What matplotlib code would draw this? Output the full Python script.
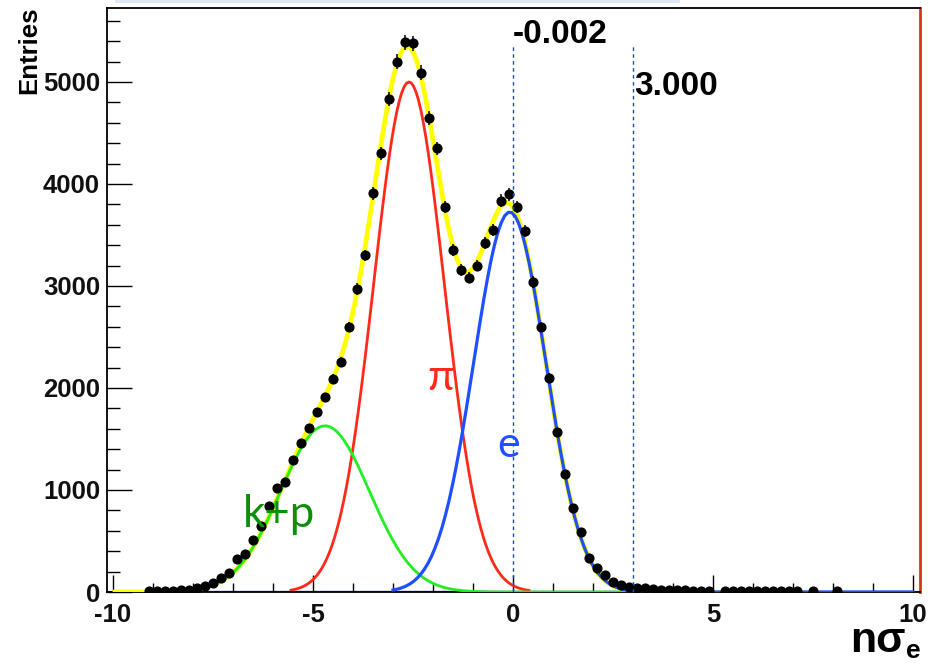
import numpy as np
import matplotlib
matplotlib.use("Agg")
import matplotlib.pyplot as plt
from matplotlib.ticker import MultipleLocator
from matplotlib.patches import Rectangle

plt.rcParams["axes.unicode_minus"] = False

# ---------------- data ----------------
bin_centers = [-9.1, -8.9, -8.7, -8.5, -8.3, -8.1, -7.9, -7.7, -7.5, -7.3,
               -7.1, -6.9, -6.7, -6.5, -6.3, -6.1, -5.9, -5.7, -5.5, -5.3,
               -5.1, -4.9, -4.7, -4.5, -4.3, -4.1, -3.9, -3.7, -3.5, -3.3,
               -3.1, -2.9, -2.7, -2.5, -2.3, -2.1, -1.9, -1.7, -1.5, -1.3,
               -1.1, -0.9, -0.7, -0.5, -0.3, -0.1, 0.1, 0.3, 0.5, 0.7,
               0.9, 1.1, 1.3, 1.5, 1.7, 1.9, 2.1, 2.3, 2.5, 2.7,
               2.9, 3.1, 3.3, 3.5, 3.7, 3.9, 4.1, 4.3, 4.5, 4.7,
               4.9, 5.3, 5.5, 5.7, 5.9, 6.1, 6.3, 6.5, 6.7, 6.9,
               7.1, 7.5, 8.1]
entries = [5, 5, 10, 10, 15, 20, 35, 55, 90, 140,
           190, 325, 370, 510, 650, 840, 1020, 1080, 1295, 1460,
           1610, 1765, 1910, 2090, 2255, 2600, 2970, 3300, 3910, 4300,
           4830, 5200, 5390, 5380, 5090, 4650, 4350, 3775, 3350, 3155,
           3080, 3200, 3420, 3550, 3835, 3900, 3775, 3540, 3040, 2600,
           2100, 1570, 1155, 820, 590, 335, 235, 165, 100, 70,
           50, 40, 35, 25, 20, 20, 15, 15, 10, 10,
           10, 8, 8, 8, 8, 8, 8, 8, 8, 8,
           8, 5, 5]
bin_half_width = 0.1

# fit components: amplitude, mean, sigma, drawing range
kp_par = (1630, -4.70, 1.11)
pi_par = (5000, -2.60, 0.88)
e_par = (3725, -0.08, 0.90)
kp_range = (-8.3, 2.9)
pi_range = (-5.55, 0.4)
e_range = (-3.0, 10.0)
sum_range = (-9.95, 5.0)

cut_values = [-0.002, 3.000]
cut_labels = ["-0.002", "3.000"]

x_ticks = [-10, -5, 0, 5, 10]
y_ticks = [0, 1000, 2000, 3000, 4000, 5000]


def gaus(x, p):
    a, m, s = p
    return a * np.exp(-0.5 * ((x - m) / s) ** 2)


W, H = 940, 664
fig = plt.figure(figsize=(W / 100, H / 100), dpi=100)
fig.patch.set_facecolor("white")

# thin light band at the very top (screenshot artefact)
fig.patches.append(Rectangle((115 / W, 1 - 3 / H), (680 - 115) / W, 3 / H,
                             transform=fig.transFigure, facecolor="#dde8f4",
                             edgecolor="none"))

ax = fig.add_axes([107 / W, 72 / H, (920 - 107) / W, (592 - 8) / H])
ax.set_xlim(-10.15, 10.175)
ax.set_ylim(0, 5725)

# baselines
ax.plot([-10.15, 10.175], [0, 0], color="#ff2a1a", lw=2.2, zorder=1)
ax.plot([-9.95, 9.9], [0, 0], color="#1f4fff", lw=2.4, zorder=1.5)

xs = np.linspace(*pi_range, 100)
ax.plot(xs, gaus(xs, pi_par), color="#ff2a1a", lw=2.0, zorder=2)

xs = np.linspace(*sum_range, 200)
ax.plot(xs, gaus(xs, kp_par) + gaus(xs, pi_par) + gaus(xs, e_par),
        color="#ffff00", lw=3.4, zorder=3)

xs = np.linspace(*kp_range, 100)
ax.plot(xs, gaus(xs, kp_par), color="#22ee22", lw=2.0, zorder=4)

xs = np.linspace(*e_range, 150)
ax.plot(xs, gaus(xs, e_par), color="#1f4fff", lw=2.3, zorder=5)

# data points
yv = np.array(entries, dtype=float)
ax.errorbar(bin_centers, yv, yerr=np.sqrt(yv), xerr=bin_half_width,
            fmt="o", color="black", ms=6.3, elinewidth=1.1, capsize=0,
            zorder=6)

# cut lines
for cv in cut_values:
    ax.plot([cv, cv], [0, 5360], color="#1a3cff", lw=1.0,
            linestyle=(0, (2.5, 2.5)), zorder=7)

# axes styling
for side in ["top", "left", "bottom"]:
    ax.spines[side].set_color("black")
    ax.spines[side].set_linewidth(1.3)
ax.spines["right"].set_color("#dd3311")
ax.spines["right"].set_linewidth(2.0)

ax.set_xticks(x_ticks)
ax.set_yticks(y_ticks)
ax.xaxis.set_minor_locator(MultipleLocator(1))
ax.yaxis.set_minor_locator(MultipleLocator(200))
ax.tick_params(axis="x", which="major", direction="in", length=12.5, width=1.0,
               pad=8, top=False)
ax.tick_params(axis="x", which="minor", direction="in", length=6.5, width=1.0,
               top=False)
ax.tick_params(axis="y", which="major", direction="in", length=18, width=1.0,
               pad=5, right=False)
ax.tick_params(axis="y", which="minor", direction="in", length=9.5, width=1.0,
               right=False)
for lab in ax.get_xticklabels() + ax.get_yticklabels():
    lab.set_fontfamily("Liberation Sans")
    lab.set_fontweight("bold")
    lab.set_fontsize(18.5)
    lab.set_color("#111111")


def ftext(px, py, s, **kw):
    fig.text(px / W, 1 - py / H, s, **kw)


# axis titles
ftext(29, 7, "Entries", rotation=90, ha="center", va="top",
      family="Liberation Sans", weight="bold", fontsize=18.5)
ftext(850, 652, "n\u03c3", ha="left", va="baseline",
      family="Liberation Sans", weight="bold", fontsize=31)
ftext(906, 658, "e", ha="left", va="baseline",
      family="Liberation Sans", weight="bold", fontsize=19)

# cut value labels
ftext(513, 43, cut_labels[0], ha="left", va="baseline",
      family="Liberation Sans", weight="bold", fontsize=24)
ftext(634, 95, cut_labels[1], ha="left", va="baseline",
      family="Liberation Sans", weight="bold", fontsize=24)

# component labels
ftext(427, 390, "\u03c0", ha="left", va="baseline",
      family=["Lato", "DejaVu Sans"], fontsize=31, color="#ff2a1a")
ftext(497, 457, "e", ha="left", va="baseline",
      family=["Lato", "DejaVu Sans"], fontsize=31, color="#1f4fff")
ftext(243, 527, "k+p", ha="left", va="baseline",
      family=["Lato", "DejaVu Sans"], fontsize=31.5, color="#0a8f0a")

fig.savefig("out.png", dpi=100)
